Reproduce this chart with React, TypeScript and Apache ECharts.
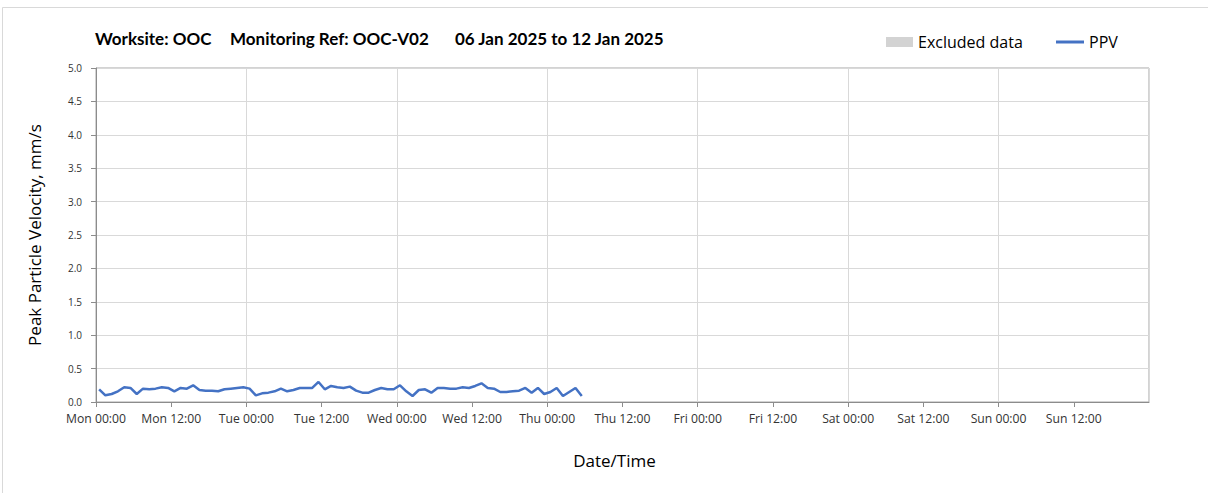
import React, { useEffect, useRef } from "react";
import * as echarts from "echarts";

const dayNames = ["Mon", "Tue", "Wed", "Thu", "Fri", "Sat", "Sun"];
const yTicks = [0, 0.5, 1, 1.5, 2, 2.5, 3, 3.5, 4, 4.5, 5];
// PPV readings (mm/s), hourly, first reading at Mon 00:30
const ppvValues = [
  0.19, 0.10, 0.12, 0.16, 0.22, 0.21, 0.12, 0.20, 0.19, 0.20,
  0.22, 0.21, 0.16, 0.21, 0.20, 0.25, 0.18, 0.17, 0.17, 0.16,
  0.19, 0.20, 0.21, 0.22, 0.20, 0.10, 0.13, 0.14, 0.16, 0.20,
  0.16, 0.18, 0.21, 0.21, 0.21, 0.30, 0.19, 0.24, 0.22, 0.21,
  0.23, 0.17, 0.14, 0.14, 0.18, 0.21, 0.19, 0.19, 0.25, 0.16,
  0.09, 0.18, 0.19, 0.14, 0.21, 0.21, 0.20, 0.20, 0.22, 0.21,
  0.24, 0.28, 0.21, 0.20, 0.15, 0.15, 0.16, 0.17, 0.21, 0.14,
  0.21, 0.12, 0.15, 0.21, 0.09, 0.15, 0.21, 0.09,
];
const firstReadingHour = 0.5;
const readingStepHours = 1;
const excludedData: number[][] = [];

const TITLE_FONT = "Lato, 'Open Sans', sans-serif";
const FONT = "'Open Sans', Lato, sans-serif";

export default function App() {
  const ref = useRef<HTMLDivElement>(null);
  useEffect(() => {
    document.body.style.margin = "0";
    const chart = echarts.init(ref.current!, null, { renderer: "svg" });
    const ppvData = ppvValues.map((v, i) => [firstReadingHour + i * readingStepHours, v]);
    const titleStyle = { fontFamily: TITLE_FONT, fontWeight: "bold", fontSize: 17, color: "#000" };
    chart.setOption({
      animation: false,
      backgroundColor: "#fff",
      textStyle: { fontFamily: FONT },
      title: [
        { text: "Worksite: OOC", left: 95, top: 30, padding: 0, textStyle: titleStyle },
        { text: "Monitoring Ref: OOC-V02", left: 230, top: 30, padding: 0, textStyle: titleStyle },
        { text: "06 Jan 2025 to 12 Jan 2025", left: 455, top: 30, padding: 0, textStyle: titleStyle },
      ],
      legend: [
        {
          data: [{ name: "Excluded data", icon: "rect" }],
          left: 886, top: 34, padding: 0, itemWidth: 27, itemHeight: 10,
          textStyle: { fontFamily: FONT, fontSize: 16, color: "#000" },
        },
        {
          data: [{ name: "PPV", icon: "rect" }],
          left: 1056, top: 34, padding: 0, itemWidth: 28, itemHeight: 3,
          textStyle: { fontFamily: FONT, fontSize: 16, color: "#000" },
        },
      ],
      graphic: [
        { type: "rect", shape: { x: 2.5, y: 7.5, width: 1300, height: 600 }, style: { fill: "none", stroke: "#d9d9d9", lineWidth: 1 }, silent: true },
      ],
      grid: { left: 96, right: 59, top: 68, bottom: 91, show: true, borderColor: "#a6a6a6", borderWidth: 1 },
      xAxis: [
        {
          type: "value", min: 0, max: 168, interval: 12,
          name: "Date/Time", nameLocation: "middle", nameGap: 50,
          nameTextStyle: { fontFamily: FONT, fontSize: 17, color: "#000", padding: [0, 16, 0, 0] },
          axisLine: { lineStyle: { color: "#8c8c8c" } },
          axisTick: { show: true, length: 5, lineStyle: { color: "#8c8c8c" } },
          axisLabel: {
            fontFamily: FONT, fontSize: 12.2, color: "#333", margin: 10, showMaxLabel: false,
            formatter: (v: number) => {
              if (v >= 168) return "";
              const d = Math.floor(v / 24);
              return dayNames[d] + (v % 24 === 0 ? " 00:00" : " 12:00");
            },
          },
          splitLine: { show: false },
        },
        {
          type: "value", min: 0, max: 168, interval: 24, position: "bottom",
          axisLine: { show: false }, axisTick: { show: false }, axisLabel: { show: false },
          splitLine: { show: true, lineStyle: { color: "#d9d9d9", width: 1 } },
        },
      ],
      yAxis: {
        type: "value", min: yTicks[0], max: yTicks[yTicks.length - 1], interval: 0.5,
        name: "Peak Particle Velocity, mm/s", nameLocation: "middle", nameGap: 53,
        nameTextStyle: { fontFamily: FONT, fontSize: 17, color: "#000" },
        axisLine: { show: true, lineStyle: { color: "#8c8c8c" } },
        axisTick: { show: true, length: 5, lineStyle: { color: "#8c8c8c" } },
        axisLabel: { fontFamily: FONT, fontSize: 10, color: "#333", margin: 14, formatter: (v: number) => v.toFixed(1) },
        splitLine: { show: true, lineStyle: { color: "#d9d9d9", width: 1 } },
      },
      series: [
        { name: "Excluded data", type: "bar", data: excludedData, itemStyle: { color: "#d3d3d3" }, xAxisIndex: 0 },
        {
          name: "PPV", type: "line", data: ppvData, xAxisIndex: 0, showSymbol: false, symbol: "none",
          itemStyle: { color: "#4472c4" }, lineStyle: { color: "#4472c4", width: 2.5 },
        },
      ],
    });
    return () => chart.dispose();
  }, []);
  return <div ref={ref} style={{ width: 1208, height: 493 }} />;
}
